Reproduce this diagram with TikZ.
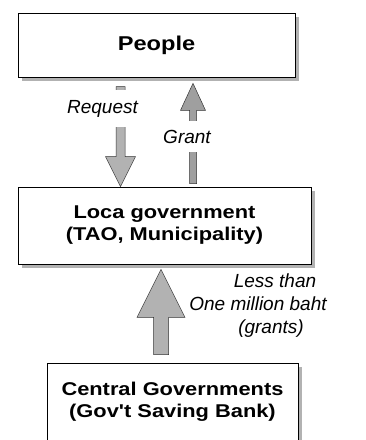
\documentclass[tikz,border=0pt]{standalone}
\usepackage{fontspec}
\setmainfont{Liberation Sans}
\newfontfamily\boxfont[FakeStretch=1.18]{Liberation Sans}
\usetikzlibrary{calc,shadows}
\begin{document}
\begin{tikzpicture}[x=1pt,y=-1pt,
  box/.style={draw=black, line width=0.7pt, fill=white, inner sep=0pt, align=center,
    font=\boxfont\bfseries\fontsize{18.5}{22}\selectfont,
    drop shadow={shadow xshift=4pt, shadow yshift=-4pt, opacity=1, fill=gray!60}},
  lbl/.style={font=\itshape\fontsize{19}{23}\selectfont, inner sep=0pt},
  blk/.style={fill=gray!60, draw=gray!40!black, line width=0.5pt},
  blkdark/.style={blk, fill=gray!75}]
\useasboundingbox (0,0) rectangle (365,440);
% boxes
\node[box, minimum width=277pt, minimum height=64pt,
  font=\boxfont\bfseries\fontsize{20}{24}\selectfont] (people) at (156.5,45) {People};
\node[box, minimum width=293pt, minimum height=77pt] (loca) at (164.5,225.5)
  {Loca government\\(TAO, Municipality)};
\node[box, minimum width=251pt, minimum height=90pt] (central) at (172.5,408)
  {Central Governments\\(Gov't Saving Bank)\\[-6pt]\mbox{}};
% guide coordinates
\coordinate (rqx) at (120.5,0);
\coordinate (grx) at (193,0);
\coordinate (cgx) at (161,0);
% Request arrow (down)
\draw[blk] (rqx |- loca.north) -- ++(-15,-30) -- ++(10.5,0) -- ++(0,-70)
  -- ++(9,0) -- ++(0,70) -- ++(10.5,0) -- cycle;
\node[lbl, fill=white, inner xsep=1pt, inner ysep=10pt, anchor=base] (request) at (102.5,113) {Request};
% Grant arrow (up)
\draw[blkdark] ($(grx |- people.south)+(0,6)$) -- ++(12.5,27) -- ++(-9,0)
  -- ($(grx |- loca.north)+(3.5,-3)$) -- ++(-7,0) -- ($(grx |- people.south)+(-3.5,33)$)
  -- ++(-9,0) -- cycle;
\node[lbl, fill=white, inner xsep=1pt, inner ysep=9pt, anchor=base] (grant) at (187,143) {Grant};
% Central -> Local arrow (up)
\draw[blk] ($(cgx |- loca.south)+(0,5)$) -- ++(24,48) -- ++(-16.5,0)
  -- ($(cgx |- central.north)+(7.5,-8)$) -- ++(-15,0) -- ($(cgx |- loca.south)+(-7.5,53)$)
  -- ++(-16.5,0) -- cycle;
\node[lbl, align=center] (less) at (258,306)
  {\hspace*{34pt}Less than\\One million baht\\\hspace*{26pt}(grants)};
\end{tikzpicture}
\end{document}
